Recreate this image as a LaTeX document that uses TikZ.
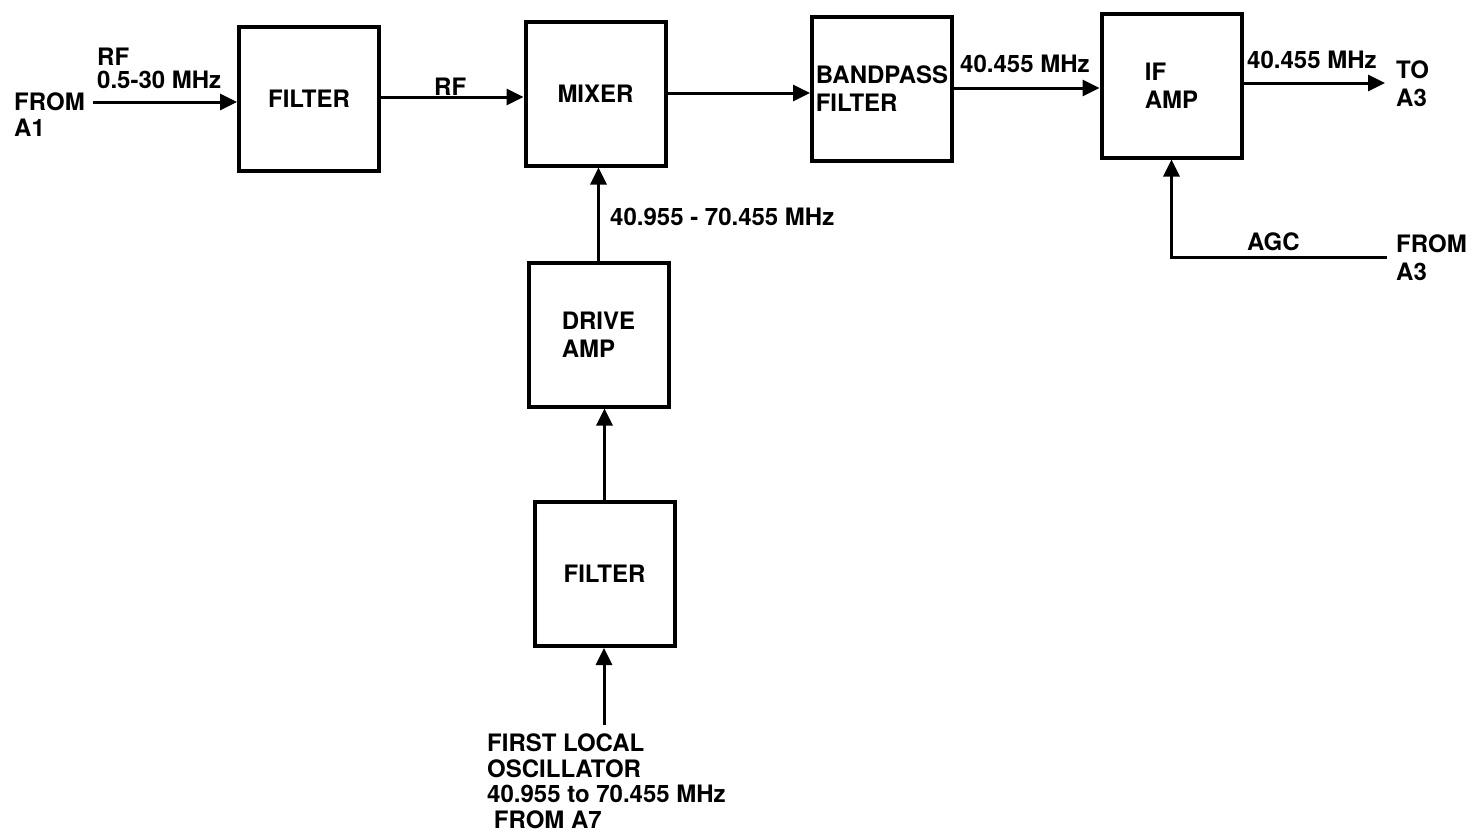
\documentclass[tikz,border=0pt]{standalone}
\usepackage{fontspec}
\setmainfont{TeX Gyre Heros}
\usetikzlibrary{arrows.meta}
\begin{document}
\begin{tikzpicture}[x=1pt,y=-1pt,
  stepbox/.style={draw, line width=4pt, minimum width=140pt, minimum height=144pt, inner sep=0pt,
    align=left, font=\fontsize{24}{28}\selectfont\bfseries},
  lbl/.style={inner sep=0pt, anchor=base west, align=left, font=\fontsize{24}{26}\selectfont\bfseries},
  arr/.style={line width=3pt, -{Triangle[length=17pt,width=16pt]}},
  wire/.style={line width=3pt}]
\useasboundingbox (0,0) rectangle (1473,836);
% boxes
\node[stepbox] (f1)  at (309,99)     {FILTER};
\node[stepbox] (mix) at (595.5,93.5) {MIXER};
\node[stepbox] (bp)  at (882,89)     {BANDPASS\\FILTER};
\node[stepbox] (ifa) at (1171.5,85.5){IF\\AMP};
\node[stepbox] (drv) at (598.5,334.5){DRIVE\\AMP};
\node[stepbox] (f2)  at (604.5,574)  {FILTER};
% free ends
\coordinate (inA1) at (93,102);
\coordinate (out)  at (1385,83);
\coordinate (lo)   at (604,725);
\coordinate (agc)  at (1387,257);
% connectors
\draw[arr] (inA1) -- (inA1 -| f1.west);
\draw[arr] (f1.east |- 0,97) -- (mix.west |- 0,97);
\draw[arr] (mix.east |- 0,93) -- (bp.west |- 0,93);
\draw[arr] (bp.east |- 0,88) -- (ifa.west |- 0,88);
\draw[arr] (ifa.east |- out) -- (out);
\draw[arr] (drv.north) -- (drv.north |- mix.south);
\draw[arr] (f2.north) -- (f2.north |- drv.south);
\draw[arr] (lo) -- (lo |- f2.south);
\draw[arr] (agc) -- (agc -| ifa.south) -- (ifa.south);
% labels (multi-line nodes: base = last line)
\node[lbl] (lfa1) at (14,136) {FROM\\A1};
\node[lbl, font=\fontsize{24}{23}\selectfont\bfseries] (lrf1) at (97,88) {RF\\0.5-30 MHz};
\node[lbl] (lrf2) at (434,95) {RF};
\node[lbl] (lif1) at (960,72) {40.455 MHz};
\node[lbl] (lif2) at (1247,68) {40.455 MHz};
\node[lbl, font=\fontsize{24}{28}\selectfont\bfseries] (lto) at (1396,106) {TO\\A3};
\node[lbl] (llo1) at (610,225) {40.955 - 70.455 MHz};
\node[lbl] (lagc) at (1247,250) {AGC};
\node[lbl, font=\fontsize{24}{28}\selectfont\bfseries] (lfa3) at (1396,280) {FROM\\A3};
\node[lbl, font=\fontsize{24}{25.5}\selectfont\bfseries] (llo) at (487,828) {FIRST LOCAL\\OSCILLATOR\\40.955 to 70.455 MHz\\\ FROM A7};
\end{tikzpicture}
\end{document}
